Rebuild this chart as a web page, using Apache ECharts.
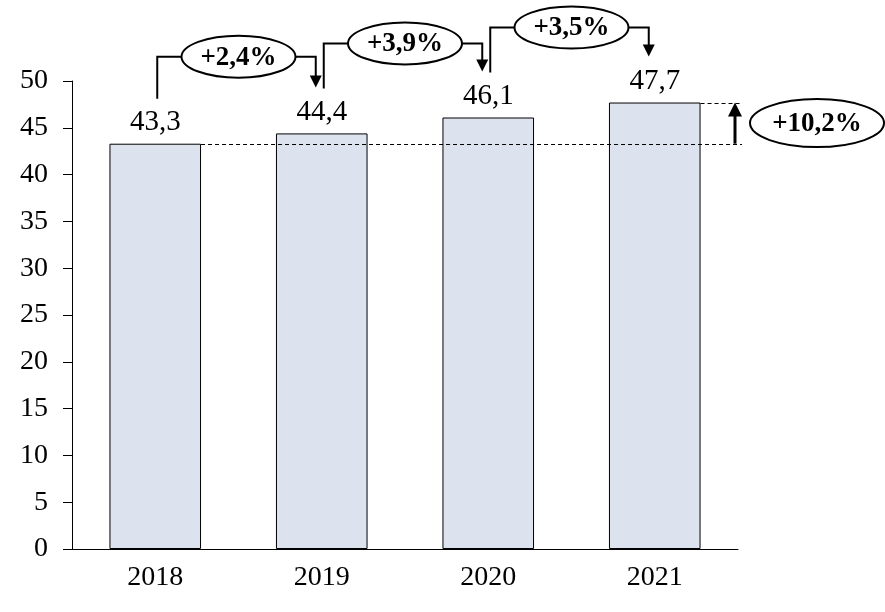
<!DOCTYPE html>
<html><head><meta charset="utf-8">
<script src="https://cdn.jsdelivr.net/npm/echarts@6/dist/echarts.min.js"></script>
<style>html,body{margin:0;padding:0;background:#fff}#c{width:885px;height:612px}</style>
</head><body><div id="c"></div>
<script>
const categories = ['2018', '2019', '2020', '2021'];
const values = [43.3, 44.4, 46.1, 47.7];
const changeLabels = ['+2,4%', '+3,9%', '+3,5%'];
const totalLabel = '+10,2%';
const yMin = 0, yMax = 50, yStep = 5;

const FONT = 'Liberation Serif';
const chart = echarts.init(document.getElementById('c'), null, {renderer: 'canvas'});
const fmt = v => String(v).replace('.', ',');

chart.setOption({
  animation: false,
  grid: {left: 72, right: 147, top: 81, bottom: 63},
  xAxis: {
    type: 'category', data: categories,
    axisLine: {lineStyle: {color: '#000', width: 1}},
    axisTick: {show: false},
    axisLabel: {color: '#000', fontFamily: FONT, fontSize: 28, margin: 15}
  },
  yAxis: {
    type: 'value', min: yMin, max: yMax, interval: yStep,
    splitLine: {show: false},
    axisLine: {show: true, lineStyle: {color: '#000', width: 1}},
    axisTick: {show: true, length: 9, lineStyle: {color: '#000'}},
    axisLabel: {color: '#000', fontFamily: FONT, fontSize: 28, margin: 24}
  },
  series: [{
    type: 'bar', data: values, barWidth: '55%', z: 1,
    itemStyle: {color: '#dde3ee', borderColor: '#000', borderWidth: 1},
    label: {show: true, position: 'top', distance: 7, color: '#000', fontFamily: FONT, fontSize: 29,
      formatter: p => fmt(p.value)}
  }]
});

function px(i, v) { return chart.convertToPixel({xAxisIndex: 0, yAxisIndex: 0}, [i, v]); }

const els = [];
const Z = 100;
const stroke = {stroke: '#000', lineWidth: 2, fill: null};
function arrowDown(x, tipY) {
  els.push({type: 'polygon', zlevel: 1, z: Z, shape: {points: [[x - 6, tipY - 12], [x + 6, tipY - 12], [x, tipY]]}, style: {fill: '#000'}});
}
function ellipse(cx, cy, rx, ry, text) {
  els.push({type: 'ellipse', zlevel: 1, z: Z, shape: {cx, cy, rx, ry}, style: {fill: '#fff', stroke: '#000', lineWidth: 2}});
  els.push({type: 'text', zlevel: 1, z: Z + 1, x: cx, y: cy + 1, style: {text, fill: '#000', font: 'bold 27px "' + FONT + '"', align: 'center', verticalAlign: 'middle'}});
}

const band = px(1, 0)[0] - px(0, 0)[0];
for (let i = 0; i < changeLabels.length; i++) {
  const a = px(i, values[i]);
  const b = px(i + 1, values[i + 1]);
  const lx = a[0] + 2, rx = b[0] - 6;
  const lb = a[1] - 45;
  const hy = a[1] - 90 + (i === 0 ? 3 : 0);
  const tip = b[1] - 46;
  const mx = (a[0] + b[0]) / 2;
  const erx = 57, ery = 21;
  els.push({type: 'polyline', zlevel: 1, z: Z, shape: {points: [[lx, lb], [lx, hy], [mx - erx, hy]]}, style: stroke});
  els.push({type: 'polyline', zlevel: 1, z: Z, shape: {points: [[mx + erx, hy], [rx, hy], [rx, tip - 10]]}, style: stroke});
  arrowDown(rx, tip);
  ellipse(mx, hy, erx, ery, changeLabels[i]);
}

// total change
const first = px(0, values[0]);
const last = px(values.length - 1, values[values.length - 1]);
const barHalf = band * 0.275;
const endX = 742;
const y1 = Math.round(first[1]) + 0.5, y2 = Math.round(last[1]) + 0.5;
els.push({type: 'line', zlevel: 1, z: Z, shape: {x1: first[0] + barHalf, y1: y1, x2: endX, y2: y1}, style: {stroke: '#000', lineWidth: 1, lineDash: [4, 3]}});
els.push({type: 'line', zlevel: 1, z: Z, shape: {x1: last[0] + barHalf, y1: y2, x2: endX, y2: y2}, style: {stroke: '#000', lineWidth: 1, lineDash: [4, 3]}});
const ax = 735;
els.push({type: 'line', zlevel: 1, z: Z, shape: {x1: ax, y1: first[1], x2: ax, y2: last[1] + 12}, style: {stroke: '#000', lineWidth: 3}});
els.push({type: 'polygon', zlevel: 1, z: Z, shape: {points: [[ax - 7, last[1] + 14], [ax + 7, last[1] + 14], [ax, last[1]]]}, style: {fill: '#000'}});
ellipse(817, (first[1] + last[1]) / 2, 67, 24, totalLabel);

chart.setOption({graphic: {elements: els}});
</script>
</body></html>
